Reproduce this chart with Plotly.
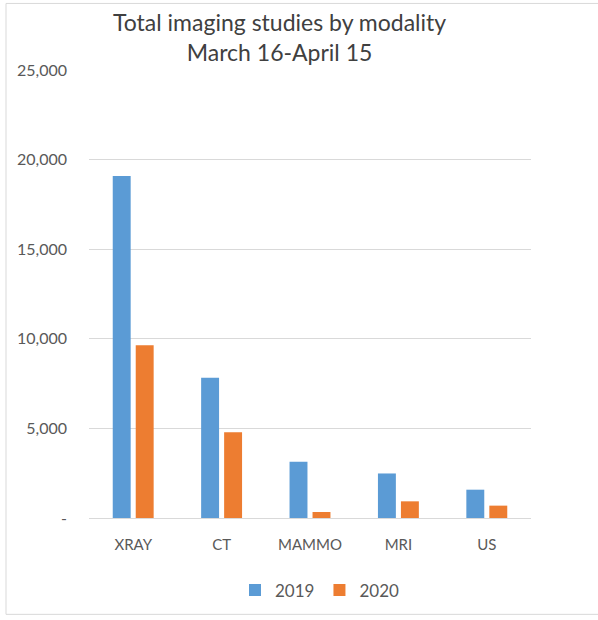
import plotly.graph_objects as go

categories = ["XRAY", "CT", "MAMMO", "MRI", "US"]
values_2019 = [19080, 7820, 3135, 2485, 1580]
values_2020 = [9640, 4780, 335, 930, 690]
y_tickvals = [0, 5000, 10000, 15000, 20000, 25000]
y_ticktext = ["-", "5,000", "10,000", "15,000", "20,000", "25,000"]

W, H = 598, 620
L, R, T, B = 89, 531, 70, 521

fig = go.Figure()
fig.add_trace(go.Bar(name="2019", x=categories, y=values_2019, marker_color="#5B9BD5",
                     marker_line_width=0))
fig.add_trace(go.Bar(name="2020", x=categories, y=values_2020, marker_color="#ED7D31",
                     marker_line_width=0))

def px_x(p):
    return (p - L) / (R - L)

def px_y(p):
    return (B - p) / (B - T)

fig.update_layout(
    width=W, height=H,
    margin=dict(l=L, r=W - R, t=T, b=H - B, pad=0),
    paper_bgcolor="white", plot_bgcolor="white",
    font=dict(family="Lato, 'Open Sans', sans-serif", color="#595959", size=14),
    barmode="group", bargap=0.48, bargroupgap=0.22,
    showlegend=True,
    legend=dict(orientation="h", x=px_x(320), xanchor="center", y=px_y(594), yanchor="middle",
                font=dict(size=17, color="#595959"), bgcolor="rgba(0,0,0,0)",
                itemwidth=30, tracegroupgap=0),
    xaxis=dict(showgrid=False, showline=True, linecolor="#d9d9d9", linewidth=1,
               ticks="", tickfont=dict(size=15, color="#595959"), ticklabelstandoff=13,
               fixedrange=True),
    yaxis=dict(range=[0, 25000], tickvals=y_tickvals, ticktext=y_ticktext,
               showgrid=True, gridcolor="#d9d9d9", gridwidth=1, zeroline=False,
               showline=False, ticks="", tickfont=dict(size=16, color="#595959"),
               ticklabelstandoff=21, fixedrange=True),
    annotations=[
        dict(text="Total imaging studies by modality<br>March 16-April 15",
             x=px_x(279), y=px_y(37), xref="paper", yref="paper",
             xanchor="center", yanchor="middle", showarrow=False,
             font=dict(size=23, color="#404040", family="Lato, 'Open Sans', sans-serif"),
             align="center"),
    ],
    shapes=[
        dict(type="rect", xref="paper", yref="paper",
             x0=px_x(6), x1=px_x(603), y0=px_y(618), y1=px_y(3),
             line=dict(color="#d9d9d9", width=1), fillcolor="rgba(0,0,0,0)", layer="below"),
    ],
)

fig.write_html("out.html")
